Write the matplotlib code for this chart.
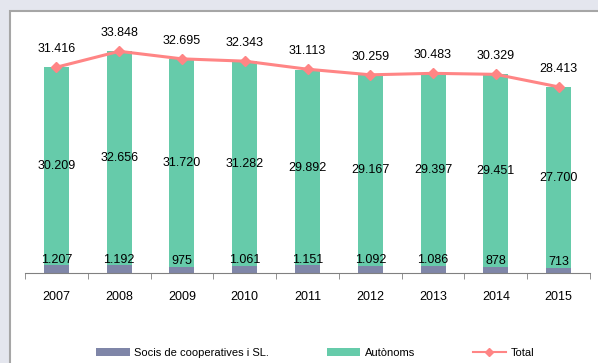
import matplotlib.pyplot as plt
import numpy as np
from matplotlib.patches import Rectangle

plt.rcParams['font.family'] = ['Liberation Sans', 'DejaVu Sans']

years = ['2007', '2008', '2009', '2010', '2011', '2012', '2013', '2014', '2015']
socis = [1207, 1192, 975, 1061, 1151, 1092, 1086, 878, 713]
autonoms = [30209, 32656, 31720, 31282, 29892, 29167, 29397, 29451, 27700]
total = [31416, 33848, 32695, 32343, 31113, 30259, 30483, 30329, 28413]


def fmt(v):
    return f"{v:,}".replace(",", ".")


W, H = 598, 363
fig = plt.figure(figsize=(W / 100, H / 100), dpi=100)
fig.patch.set_facecolor('#e4e6ee')

# white chart panel with gray frame (runs off the right and bottom edge)
fig.patches.append(Rectangle((10 / W, -0.05), 1.0, (H - 11) / H + 0.05,
                             transform=fig.transFigure, facecolor='white',
                             edgecolor='#a6a6a6', linewidth=1.5, zorder=-5))

ax = fig.add_axes([25 / W, 90 / H, 565 / W, 262 / H])
ax.set_facecolor('none')

x = np.arange(len(years))
bw = 0.4
b1 = ax.bar(x, socis, bw, color='#7f86a8', label='Socis de cooperatives i SL.')
b2 = ax.bar(x, autonoms, bw, bottom=socis, color='#66cbaa', label='Autònoms')
l1, = ax.plot(x, total, color='#ff8585', lw=2.2, marker='D', ms=5.5,
              label='Total')

for i in range(len(years)):
    ax.annotate(fmt(total[i]), (x[i], total[i]), xytext=(0, 13),
                textcoords='offset points', ha='center', va='center', fontsize=9)
    ax.text(x[i], socis[i] + autonoms[i] / 2, fmt(autonoms[i]),
            ha='center', va='center', fontsize=9)
    ax.annotate(fmt(socis[i]), (x[i], socis[i] / 2), xytext=(0, 6.5),
                textcoords='offset points', ha='center', va='center', fontsize=9)

ax.set_xlim(-0.5, len(years) - 0.5)
ax.set_ylim(0, 40000)
ax.set_xticks(x)
ax.set_xticklabels(years, fontsize=9)
ax.set_xticks(np.arange(len(years) + 1) - 0.5, minor=True)
ax.tick_params(axis='x', which='major', length=0, pad=13)
ax.tick_params(axis='x', which='minor', length=4, color='#808080')
ax.set_yticks([])
for s in ['top', 'right', 'left']:
    ax.spines[s].set_visible(False)
ax.spines['bottom'].set_color('#808080')

leg = fig.legend([b1, b2, l1], [b1.get_label(), b2.get_label(), l1.get_label()],
                 loc='center', bbox_to_anchor=(0.527, 10 / H), ncol=3, frameon=False,
                 fontsize=8, handlelength=3, columnspacing=5.2, handletextpad=0.4,
                 markerscale=0.8)
leg.get_lines()[0].set_linewidth(1.5)

fig.savefig('out.png', dpi=100, facecolor=fig.get_facecolor())
